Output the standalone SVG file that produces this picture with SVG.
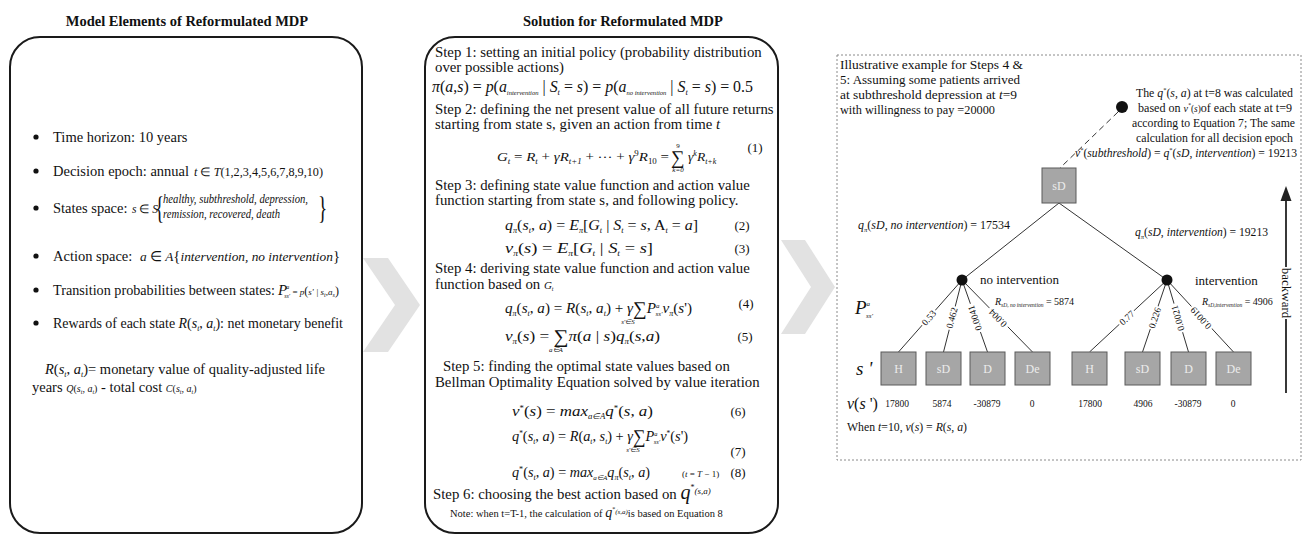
<svg xmlns="http://www.w3.org/2000/svg" width="1302" height="535" viewBox="0 0 1302 535">
<style>
text{font-family:"Liberation Serif","Times New Roman",serif;fill:#111}
.i{font-style:italic}
.b{font-weight:bold}
.L{font-size:14.5px}
.M{font-size:14.8px}
.R{font-size:13px}
.box{fill:#fff;stroke:#1a1a1a;stroke-width:2}
.chev{fill:#e2e2e2}
.st{fill:#a6a6a6;stroke:#5a5a5a;stroke-width:1}
.stt{fill:#ececec;font-size:12px;text-anchor:middle}
.ln{stroke:#333;stroke-width:1;fill:none}
.val{font-size:9.5px;text-anchor:middle}
.pl{font-size:9.5px;text-anchor:middle}
.eq{font-size:13px;text-anchor:middle}
.dot{fill:#111}
</style>

<!-- titles -->
<text class="b" x="187" y="26" font-size="14.5" text-anchor="middle">Model Elements of  Reformulated MDP</text>
<text class="b" x="623" y="26" font-size="14.5" text-anchor="middle">Solution for Reformulated MDP</text>

<!-- chevrons -->
<polygon class="chev" points="363,258 388,258 420,305 388,352 363,352 395,305"/>
<polygon class="chev" points="781,240 805,240 835,287 805,334 781,334 811,287"/>

<!-- left panel -->
<g id="model-elements">
<rect class="box" x="10" y="37" width="352" height="496" rx="30"/>
<circle class="dot" cx="36" cy="137" r="2.6"/>
<text class="L" x="53" y="142">Time horizon: 10 years</text>
<circle class="dot" cx="36" cy="171" r="2.6"/>
<text class="L" x="53" y="176" textLength="136" lengthAdjust="spacingAndGlyphs">Decision epoch: annual</text>
<text x="194" y="176" font-size="12" textLength="129" lengthAdjust="spacingAndGlyphs"><tspan class="i">t</tspan> ∈ <tspan class="i">T</tspan>(1,2,3,4,5,6,7,8,9,10)</text>
<circle class="dot" cx="36" cy="208" r="2.6"/>
<text class="L" x="53" y="213">States space:</text>
<text x="132" y="213" font-size="11.5"><tspan class="i">s</tspan> ∈ <tspan class="i">S</tspan></text>
<text x="155" y="219" font-size="32" transform="translate(155,219) scale(0.6,1) translate(-155,-219)">{</text>
<text class="i" x="163" y="203" font-size="11.5" textLength="145" lengthAdjust="spacingAndGlyphs">healthy, subthreshold, depression,</text>
<text class="i" x="163" y="218" font-size="11.5" textLength="117" lengthAdjust="spacingAndGlyphs">remission, recovered, death</text>
<text x="318" y="219" font-size="32" transform="translate(318,219) scale(0.6,1) translate(-318,-219)">}</text>
<circle class="dot" cx="36" cy="256" r="2.6"/>
<text class="L" x="53" y="261">Action space:</text>
<text x="140" y="261" font-size="13.5" textLength="200" lengthAdjust="spacingAndGlyphs"><tspan class="i">a</tspan> ∈ <tspan class="i">A</tspan><tspan font-size="15">{</tspan><tspan class="i">intervention, no intervention</tspan><tspan font-size="15">}</tspan></text>
<circle class="dot" cx="36" cy="290" r="2.6"/>
<text class="L" x="53" y="295" textLength="222" lengthAdjust="spacingAndGlyphs">Transition probabilities between states:</text>
<text x="278" y="295"><tspan class="i" font-size="15">P</tspan><tspan class="i" font-size="6" dx="-1" dy="-6">a</tspan><tspan class="i" font-size="6" dx="-5" dy="9">ss'</tspan><tspan font-size="9" dy="-3"> = </tspan><tspan class="i" font-size="9">p</tspan><tspan font-size="12">(</tspan><tspan class="i" font-size="9">s' | s</tspan><tspan class="i" font-size="6" dy="2">t</tspan><tspan font-size="9" dy="-2">,</tspan><tspan class="i" font-size="9">a</tspan><tspan class="i" font-size="6" dy="2">s</tspan><tspan font-size="12" dy="-2">)</tspan></text>
<circle class="dot" cx="36" cy="323" r="2.6"/>
<text class="L" x="53" y="328" textLength="290" lengthAdjust="spacingAndGlyphs">Rewards of each state <tspan class="i">R</tspan>(<tspan class="i">s</tspan><tspan class="i" font-size="8" dy="3">t</tspan><tspan dy="-3">, </tspan><tspan class="i">a</tspan><tspan class="i" font-size="8" dy="3">t</tspan><tspan dy="-3">): net monetary benefit</tspan></text>
<text class="L" x="45" y="374" textLength="280" lengthAdjust="spacingAndGlyphs"><tspan class="i">R</tspan>(<tspan class="i">s</tspan><tspan class="i" font-size="8" dy="3">t</tspan><tspan dy="-3">, </tspan><tspan class="i">a</tspan><tspan class="i" font-size="8" dy="3">t</tspan><tspan dy="-3">)= monetary value of quality-adjusted life</tspan></text>
<text class="L" x="32" y="392">years <tspan class="i" font-size="10">Q</tspan><tspan font-size="10">(</tspan><tspan class="i" font-size="10">s</tspan><tspan class="i" font-size="6" dy="2">t</tspan><tspan font-size="10" dy="-2">, </tspan><tspan class="i" font-size="10">a</tspan><tspan class="i" font-size="6" dy="2">t</tspan><tspan font-size="10" dy="-2">)</tspan> - total cost <tspan class="i" font-size="10">C</tspan><tspan font-size="10">(</tspan><tspan class="i" font-size="10">s</tspan><tspan class="i" font-size="6" dy="2">t</tspan><tspan font-size="10" dy="-2">, </tspan><tspan class="i" font-size="10">a</tspan><tspan class="i" font-size="6" dy="2">t</tspan><tspan font-size="10" dy="-2">)</tspan></text>
</g>

<!-- middle panel -->
<g id="solution">
<rect class="box" x="425" y="37" width="353" height="496" rx="30"/>
<text class="M" x="435" y="57">Step 1: setting an initial policy  (probability distribution</text>
<text class="M" x="435" y="72">over possible actions)</text>
<text x="432" y="92" font-size="17" textLength="321" lengthAdjust="spacingAndGlyphs"><tspan class="i">π</tspan>(<tspan class="i">a</tspan>,<tspan class="i">s</tspan>) = <tspan class="i">p</tspan>(<tspan class="i">a</tspan><tspan class="i" font-size="7" dy="3">intervention</tspan><tspan dy="-3"> | </tspan><tspan class="i">S</tspan><tspan class="i" font-size="9" dy="3">t</tspan><tspan dy="-3"> = </tspan><tspan class="i">s</tspan>) = <tspan class="i">p</tspan>(<tspan class="i">a</tspan><tspan class="i" font-size="7" dy="3">no intervention</tspan><tspan dy="-3"> | </tspan><tspan class="i">S</tspan><tspan class="i" font-size="9" dy="3">t</tspan><tspan dy="-3"> = </tspan><tspan class="i">s</tspan>) = 0.5</text>
<text class="M" x="435" y="114">Step 2:  defining the net present value of all future returns</text>
<text class="M" x="435" y="129">starting from state s,  given an action from time <tspan class="i">t</tspan></text>
<text x="497" y="161" font-size="13.5" textLength="172" lengthAdjust="spacingAndGlyphs"><tspan class="i">G</tspan><tspan class="i" font-size="8" dy="3">t</tspan><tspan dy="-3"> = </tspan><tspan class="i">R</tspan><tspan class="i" font-size="8" dy="3">t</tspan><tspan dy="-3"> + </tspan><tspan class="i">γR</tspan><tspan class="i" font-size="8" dy="3">t+1</tspan><tspan dy="-3"> + ··· + </tspan><tspan class="i">γ</tspan><tspan font-size="8" dy="-5">9</tspan><tspan class="i" dy="5">R</tspan><tspan font-size="8" dy="3">10</tspan><tspan dy="-3"> =</tspan></text>
<text x="671" y="164" font-size="19">∑</text>
<text x="678" y="148" font-size="7" text-anchor="middle">9</text>
<text class="i" x="678" y="172" font-size="7" text-anchor="middle">k=0</text>
<text x="688" y="161" font-size="13.5"><tspan class="i">γ</tspan><tspan class="i" font-size="8" dy="-5">k</tspan><tspan class="i" dy="5">R</tspan><tspan class="i" font-size="8" dy="3">t+k</tspan></text>
<text class="eq" x="755" y="152">(1)</text>
<text class="M" x="435" y="190">Step 3: defining state value function and action value</text>
<text class="M" x="435" y="205">function starting from state s, and following policy.</text>
<text x="505" y="230" font-size="15.5" textLength="193" lengthAdjust="spacingAndGlyphs"><tspan class="i">q</tspan><tspan class="i" font-size="8" dy="3">π</tspan><tspan dy="-3">(</tspan><tspan class="i">s</tspan><tspan class="i" font-size="8" dy="3">t</tspan><tspan dy="-3">, </tspan><tspan class="i">a</tspan>) = <tspan class="i">E</tspan><tspan class="i" font-size="8" dy="3">π</tspan><tspan dy="-3">[</tspan><tspan class="i">G</tspan><tspan class="i" font-size="8" dy="3">t</tspan><tspan dy="-3"> | </tspan><tspan class="i">S</tspan><tspan class="i" font-size="8" dy="3">t</tspan><tspan dy="-3"> = </tspan><tspan class="i">s</tspan>,  A<tspan class="i" font-size="8" dy="3">t</tspan><tspan dy="-3"> = </tspan><tspan class="i">a</tspan>]</text>
<text class="eq" x="742" y="230">(2)</text>
<text x="505" y="253" font-size="15.5" textLength="148" lengthAdjust="spacingAndGlyphs"><tspan class="i">v</tspan><tspan class="i" font-size="8" dy="3">π</tspan><tspan dy="-3">(</tspan><tspan class="i">s</tspan>) = <tspan class="i">E</tspan><tspan class="i" font-size="8" dy="3">π</tspan><tspan dy="-3">[</tspan><tspan class="i">G</tspan><tspan class="i" font-size="8" dy="3">t</tspan><tspan dy="-3"> | </tspan><tspan class="i">S</tspan><tspan class="i" font-size="8" dy="3">t</tspan><tspan dy="-3"> = </tspan><tspan class="i">s</tspan>]</text>
<text class="eq" x="742" y="253">(3)</text>
<text class="M" x="435" y="273">Step 4: deriving state value function and action value</text>
<text class="M" x="435" y="289">function based on  <tspan class="i" font-size="11">G</tspan><tspan class="i" font-size="6" dy="2">t</tspan></text>
<text x="505" y="313" font-size="15" textLength="187" lengthAdjust="spacingAndGlyphs"><tspan class="i">q</tspan><tspan class="i" font-size="8" dy="3">π</tspan><tspan dy="-3">(</tspan><tspan class="i">s</tspan><tspan class="i" font-size="8" dy="3">t</tspan><tspan dy="-3">, </tspan><tspan class="i">a</tspan>) = <tspan class="i">R</tspan>(<tspan class="i">s</tspan><tspan class="i" font-size="8" dy="3">t</tspan><tspan dy="-3">, </tspan><tspan class="i">a</tspan><tspan class="i" font-size="8" dy="3">t</tspan><tspan dy="-3">) + </tspan><tspan class="i">γ</tspan><tspan font-size="19" dy="2">∑</tspan><tspan class="i" dy="-2">P</tspan><tspan class="i" font-size="7" dy="-5">a</tspan><tspan class="i" font-size="7" dx="-4" dy="8">ss'</tspan><tspan class="i" dy="-3">v</tspan><tspan class="i" font-size="8" dy="3">π</tspan><tspan dy="-3">(</tspan><tspan class="i">s</tspan>')</text>
<text class="i" x="628" y="324" font-size="7" text-anchor="middle">s'∈S</text>
<text class="eq" x="746" y="308">(4)</text>
<text x="505" y="341" font-size="15.5" textLength="155" lengthAdjust="spacingAndGlyphs"><tspan class="i">v</tspan><tspan class="i" font-size="8" dy="3">π</tspan><tspan dy="-3">(</tspan><tspan class="i">s</tspan>) = <tspan font-size="19" dy="2">∑</tspan><tspan class="i" dy="-2">π</tspan>(<tspan class="i">a</tspan> | <tspan class="i">s</tspan>)<tspan class="i">q</tspan><tspan class="i" font-size="8" dy="3">π</tspan><tspan dy="-3">(</tspan><tspan class="i">s</tspan>,<tspan class="i">a</tspan>)</text>
<text class="i" x="556" y="352" font-size="7" text-anchor="middle">a∈A</text>
<text class="eq" x="745" y="341">(5)</text>
<text class="M" x="443" y="371">Step 5:  finding the optimal state values based on</text>
<text class="M" x="435" y="387">Bellman Optimality Equation solved by value iteration</text>
<text x="512" y="416" font-size="15.5" textLength="141" lengthAdjust="spacingAndGlyphs"><tspan class="i">v</tspan><tspan font-size="8" dy="-5">*</tspan><tspan dy="5">(</tspan><tspan class="i">s</tspan>) = <tspan class="i">max</tspan><tspan class="i" font-size="8" dy="3">a∈A</tspan><tspan class="i" dy="-3">q</tspan><tspan font-size="8" dy="-5">*</tspan><tspan dy="5">(</tspan><tspan class="i">s</tspan>, <tspan class="i">a</tspan>)</text>
<text class="eq" x="738" y="416">(6)</text>
<text x="512" y="441" font-size="15.5" textLength="176" lengthAdjust="spacingAndGlyphs"><tspan class="i">q</tspan><tspan font-size="8" dy="-5">*</tspan><tspan dy="5">(</tspan><tspan class="i">s</tspan><tspan class="i" font-size="8" dy="3">t</tspan><tspan dy="-3">, </tspan><tspan class="i">a</tspan>) = <tspan class="i">R</tspan>(<tspan class="i">a</tspan><tspan class="i" font-size="8" dy="3">t</tspan><tspan dy="-3">, </tspan><tspan class="i">s</tspan><tspan class="i" font-size="8" dy="3">t</tspan><tspan dy="-3">) + </tspan><tspan class="i">γ</tspan><tspan font-size="19" dy="2">∑</tspan><tspan class="i" dy="-2">P</tspan><tspan class="i" font-size="7" dy="-5">a</tspan><tspan class="i" font-size="7" dx="-4" dy="8">ss'</tspan><tspan class="i" dy="-3">v</tspan><tspan font-size="8" dy="-5">*</tspan><tspan dy="5">(</tspan><tspan class="i">s</tspan>')</text>
<text class="i" x="633" y="452" font-size="7" text-anchor="middle">s'∈S</text>
<text class="eq" x="738" y="456">(7)</text>
<text x="512" y="477" font-size="14" textLength="138" lengthAdjust="spacingAndGlyphs"><tspan class="i">q</tspan><tspan font-size="8" dy="-5">*</tspan><tspan dy="5">(</tspan><tspan class="i">s</tspan><tspan class="i" font-size="8" dy="3">t</tspan><tspan dy="-3">, </tspan><tspan class="i">a</tspan>) = <tspan class="i">max</tspan><tspan class="i" font-size="7" dy="3">a∈A</tspan><tspan class="i" dy="-3">q</tspan><tspan class="i" font-size="8" dy="3">π</tspan><tspan dy="-3">(</tspan><tspan class="i">s</tspan><tspan class="i" font-size="8" dy="3">t</tspan><tspan dy="-3">, </tspan><tspan class="i">a</tspan>)</text>
<text x="682" y="477" font-size="9">(<tspan class="i">t</tspan> = <tspan class="i">T</tspan> − 1)</text>
<text class="eq" x="738" y="477">(8)</text>
<text class="M" x="433" y="499">Step 6: choosing the best action based on  <tspan class="i" font-size="20">q</tspan><tspan font-size="8" dy="-9">*</tspan><tspan class="i" font-size="9" dy="4">(s,a)</tspan></text>
<text x="450" y="517" font-size="10.5">Note: when t=T-1, the calculation of <tspan class="i" font-size="14">q</tspan><tspan font-size="6" dy="-6">*</tspan><tspan class="i" font-size="7" dy="3">(s,a)</tspan><tspan dy="3">is based on Equation 8</tspan></text>
</g>

<!-- right panel -->
<g id="example-frame">
<rect x="837" y="55" width="464" height="405" fill="none" stroke="#8a8a8a" stroke-width="1" stroke-dasharray="2,2"/>
<text class="R" x="840" y="69" textLength="183" lengthAdjust="spacingAndGlyphs">Illustrative example for Steps 4 &amp;</text>
<text class="R" x="840" y="84" textLength="180" lengthAdjust="spacingAndGlyphs">5: Assuming some patients arrived</text>
<text class="R" x="840" y="99" textLength="177" lengthAdjust="spacingAndGlyphs">at subthreshold depression at <tspan class="i">t</tspan>=9</text>
<text class="R" x="840" y="114" textLength="155" lengthAdjust="spacingAndGlyphs">with willingness to pay =20000</text>
<text class="R" x="1136" y="97" textLength="157" lengthAdjust="spacingAndGlyphs">The <tspan class="i">q</tspan><tspan font-size="7" dy="-5">*</tspan><tspan dy="5">(</tspan><tspan class="i">s</tspan>, <tspan class="i">a</tspan>) at t=8 was calculated</text>
<text class="R" x="1138" y="112" textLength="154" lengthAdjust="spacingAndGlyphs">based on <tspan class="i" font-size="11">v</tspan><tspan font-size="6" dy="-5">*</tspan><tspan font-size="10" dy="5">(</tspan><tspan class="i" font-size="10">s</tspan><tspan font-size="10">)</tspan>of each state at t=9</text>
<text class="R" x="1132" y="127" textLength="163" lengthAdjust="spacingAndGlyphs">according to Equation 7; The same</text>
<text class="R" x="1136" y="142" textLength="157" lengthAdjust="spacingAndGlyphs">calculation for all decision epoch</text>
<text x="1075" y="157" font-size="12.5" textLength="222" lengthAdjust="spacingAndGlyphs"><tspan class="i">v</tspan><tspan font-size="7" dy="-5">*</tspan><tspan dy="5">(</tspan><tspan class="i">subthreshold</tspan>) = <tspan class="i">q</tspan><tspan font-size="7" dy="-5">*</tspan><tspan dy="5">(</tspan><tspan class="i">sD</tspan>, <tspan class="i">intervention</tspan>) = 19213</text>
</g>

<g id="connectors">
<line class="ln" x1="1118" y1="112" x2="1060" y2="168" stroke-dasharray="6,4"/>
<line class="ln" x1="1059" y1="203" x2="962" y2="280"/>
<line class="ln" x1="1059" y1="203" x2="1167" y2="280"/>
<line class="ln" x1="962" y1="280" x2="898.5" y2="352"/>
<line class="ln" x1="962" y1="280" x2="943.5" y2="352"/>
<line class="ln" x1="962" y1="280" x2="987.5" y2="352"/>
<line class="ln" x1="962" y1="280" x2="1032.5" y2="352"/>
<line class="ln" x1="1167" y1="280" x2="1089.5" y2="352"/>
<line class="ln" x1="1167" y1="280" x2="1142.5" y2="352"/>
<line class="ln" x1="1167" y1="280" x2="1188.5" y2="352"/>
<line class="ln" x1="1167" y1="280" x2="1233.5" y2="352"/>
<line x1="1286" y1="393" x2="1286" y2="198" stroke="#222" stroke-width="1.8"/>
<polygon points="1286,186 1280.5,201 1291.5,201" fill="#222"/>
</g>

<g id="prob-labels">
<g transform="translate(929,318) rotate(-48)"><rect x="-10" y="-5" width="20" height="9" fill="#fff"/><text class="pl" y="3">0.53</text></g>
<g transform="translate(952,318) rotate(-75)"><rect x="-12" y="-5" width="24" height="9" fill="#fff"/><text class="pl" y="3">0.462</text></g>
<g transform="translate(975,318) rotate(-109)"><rect x="-15" y="-5" width="30" height="9" fill="#fff"/><text class="pl" y="3">0.0041</text></g>
<g transform="translate(998,318) rotate(-134)"><rect x="-13" y="-5" width="26" height="9" fill="#fff"/><text class="pl" y="3">0.004</text></g>
<g transform="translate(1127,318) rotate(-43)"><rect x="-10" y="-5" width="20" height="9" fill="#fff"/><text class="pl" y="3">0.77</text></g>
<g transform="translate(1155,318) rotate(-72)"><rect x="-12" y="-5" width="24" height="9" fill="#fff"/><text class="pl" y="3">0.226</text></g>
<g transform="translate(1178,318) rotate(-106)"><rect x="-15" y="-5" width="30" height="9" fill="#fff"/><text class="pl" y="3">0.0021</text></g>
<g transform="translate(1201,318) rotate(-132)"><rect x="-15" y="-5" width="30" height="9" fill="#fff"/><text class="pl" y="3">0.0019</text></g>
</g>

<g id="decision-dot-top"><circle class="dot" cx="1122" cy="107" r="6"/></g>
<g id="node-root-sD"><rect class="st" x="1042" y="168" width="34" height="35"/><text class="stt" x="1059" y="190">sD</text></g>
<g id="chance-no-intervention"><circle class="dot" cx="962" cy="280" r="5.5"/>
<text x="980" y="284" font-size="13">no intervention</text>
<text x="995" y="305" font-size="10"><tspan class="i">R</tspan><tspan class="i" font-size="5.5" dy="2">sD, no intervention</tspan><tspan dy="-2"> = 5874</tspan></text>
</g>
<g id="chance-intervention"><circle class="dot" cx="1167" cy="280" r="5.5"/>
<text x="1195" y="285" font-size="13">intervention</text>
<text x="1202" y="305" font-size="10"><tspan class="i">R</tspan><tspan class="i" font-size="5.5" dy="2">sD,intervention</tspan><tspan dy="-2"> = 4906</tspan></text>
</g>
<g id="edge-labels">
<text x="858" y="229" font-size="12.5" textLength="152" lengthAdjust="spacingAndGlyphs"><tspan class="i">q</tspan><tspan class="i" font-size="7" dy="3">π</tspan><tspan dy="-3">(</tspan><tspan class="i">sD</tspan>, <tspan class="i">no intervention</tspan>) = 17534</text>
<text x="1135" y="236" font-size="12.5" textLength="133" lengthAdjust="spacingAndGlyphs"><tspan class="i">q</tspan><tspan class="i" font-size="7" dy="3">π</tspan><tspan dy="-3">(</tspan><tspan class="i">sD</tspan>, <tspan class="i">intervention</tspan>) = 19213</text>
</g>

<g id="node-H-1"><rect class="st" x="881" y="352" width="35" height="33"/><text class="stt" x="898.5" y="373">H</text></g>
<g id="node-sD-1"><rect class="st" x="926" y="352" width="35" height="33"/><text class="stt" x="943.5" y="373">sD</text></g>
<g id="node-D-1"><rect class="st" x="970" y="352" width="35" height="33"/><text class="stt" x="987.5" y="373">D</text></g>
<g id="node-De-1"><rect class="st" x="1015" y="352" width="35" height="33"/><text class="stt" x="1032.5" y="373">De</text></g>
<g id="node-H-2"><rect class="st" x="1072" y="352" width="35" height="33"/><text class="stt" x="1089.5" y="373">H</text></g>
<g id="node-sD-2"><rect class="st" x="1125" y="352" width="35" height="33"/><text class="stt" x="1142.5" y="373">sD</text></g>
<g id="node-D-2"><rect class="st" x="1171" y="352" width="35" height="33"/><text class="stt" x="1188.5" y="373">D</text></g>
<g id="node-De-2"><rect class="st" x="1216" y="352" width="35" height="33"/><text class="stt" x="1233.5" y="373">De</text></g>

<g id="row-labels">
<text x="855" y="314" font-size="19"><tspan class="i">P</tspan><tspan class="i" font-size="7" dy="-8">a</tspan><tspan class="i" font-size="7" dx="-4" dy="12">ss'</tspan></text>
<text class="i" x="856" y="375" font-size="19">s '</text>
<text x="847" y="409" font-size="16"><tspan class="i">v</tspan>(<tspan class="i">s</tspan> ')</text>
<text class="val" x="897" y="407">17800</text>
<text class="val" x="942" y="407">5874</text>
<text class="val" x="987" y="407">-30879</text>
<text class="val" x="1032" y="407">0</text>
<text class="val" x="1090" y="407">17800</text>
<text class="val" x="1143" y="407">4906</text>
<text class="val" x="1188" y="407">-30879</text>
<text class="val" x="1233" y="407">0</text>
<text x="847" y="431" font-size="12" textLength="120" lengthAdjust="spacingAndGlyphs">When <tspan class="i">t</tspan>=10, <tspan class="i">v</tspan>(<tspan class="i">s</tspan>) = <tspan class="i">R</tspan>(<tspan class="i">s</tspan>, <tspan class="i">a</tspan>)</text>
</g>

<g id="backward-label">
<g transform="translate(1286,293) rotate(90)"><rect x="-26" y="-7" width="52" height="14" fill="#fff"/><text x="0" y="4" font-size="13" text-anchor="middle">backward</text></g>
</g>
</svg>
